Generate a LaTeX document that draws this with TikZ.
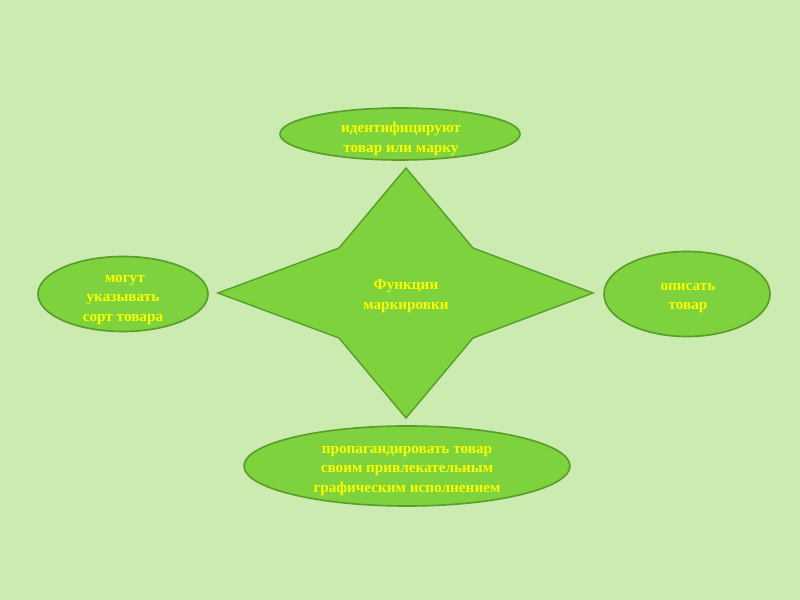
\documentclass[tikz,border=0pt]{standalone}
\usepackage{fontspec}
\setmainfont{Liberation Serif}
\usetikzlibrary{shapes.geometric}
\definecolor{bgcol}{RGB}{203,235,176}
\definecolor{leaf}{RGB}{126,210,62}
\definecolor{leafedge}{RGB}{88,158,40}
\definecolor{txtyellow}{RGB}{250,255,0}
\tikzset{
  oval/.style={ellipse, draw=leafedge, fill=leaf, line width=1.4pt, inner sep=0pt},
  ovaltxt/.style={font=\fontsize{13}{17}\selectfont\bfseries, text=txtyellow, align=center}
}
\begin{document}
\begin{tikzpicture}[x=0.03cm,y=-0.03cm]
%% background
\fill[bgcol] (0,0) rectangle (800,600);
\useasboundingbox (0,0) rectangle (800,600);
%% four-point star
\draw[leafedge, fill=leaf, line width=1.2pt, line join=miter]
  (406,168) -- (473,248) -- (593,293) -- (473,338) -- (406,418)
  -- (339,338) -- (218,293) -- (339,248) -- cycle;
\node[ovaltxt] (centre) at (406,296) {Функции\\маркировки};
%% ovals round the star
\node[oval, minimum width=7.2cm, minimum height=1.56cm] (top) at (400,134) {};
\node[oval, minimum width=5.1cm, minimum height=2.25cm] (left) at (123,294) {};
\node[oval, minimum width=4.98cm, minimum height=2.55cm] (right) at (687,294) {};
\node[oval, minimum width=9.78cm, minimum height=2.4cm] (bottom) at (407,466) {};
%% texts in the ovals
\node[ovaltxt] (toptxt) at (401,139) {идентифицируют\\товар или марку};
\node[ovaltxt] (lefttxt) at (123,300) {\ могут\\указывать\\сорт товара};
\node[ovaltxt] (righttxt) at (688,298) {описать\\товар};
\node[ovaltxt] (bottomtxt) at (407,471)
  {пропагандировать товар\\своим привлекательным\\графическим исполнением};
\end{tikzpicture}
\end{document}
